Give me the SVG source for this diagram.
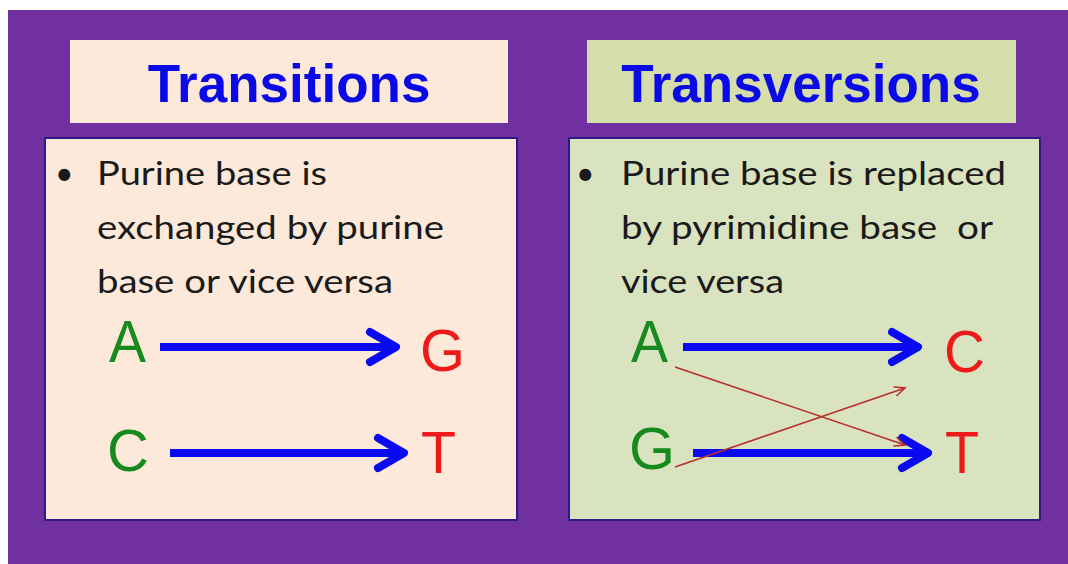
<svg xmlns="http://www.w3.org/2000/svg" width="1068" height="564" viewBox="0 0 1068 564">
  <style>
    .title { font-family: "Liberation Sans", Arial, sans-serif; font-weight: bold; font-size: 53px; fill: #0A0AE6; text-anchor: middle; }
    .body { font-family: Lato, "Open Sans", sans-serif; font-size: 32px; fill: #1A1A1A; }
    .base { font-family: "Liberation Sans", Arial, sans-serif; font-size: 60px; }
    .pur { fill: #178A1E; }
    .pyr { fill: #EE1A1A; }
    .box { stroke: #2E1C86; stroke-width: 2; }
    .blue { stroke: #0A0AF0; stroke-width: 8; fill: none; }
    .thin { stroke: #B8302C; stroke-width: 1.6; fill: none; }
  </style>
  <defs>
    <marker id="bigArrow" markerUnits="userSpaceOnUse" viewBox="-34 -24 42 48" markerWidth="42" markerHeight="48" refX="0" refY="0" orient="auto">
      <path d="M-26,-15 L0,0 L-26,15" fill="none" stroke="#0A0AF0" stroke-width="8" stroke-linecap="round" stroke-linejoin="round"/>
    </marker>
    <marker id="smallArrow" markerUnits="userSpaceOnUse" viewBox="-14 -8 16 16" markerWidth="16" markerHeight="16" refX="0" refY="0" orient="auto">
      <path d="M-10,-4.5 L0,0 L-10,4.5" fill="none" stroke="#B8302C" stroke-width="1.6" stroke-linecap="round"/>
    </marker>
  </defs>

  <rect x="0" y="0" width="1068" height="564" fill="#FFFFFF"/>
  <rect x="8" y="10" width="1060" height="554" fill="#7030A0"/>

  <g id="transitions-title">
    <rect x="70" y="40" width="438" height="83" fill="#FCE9D9"/>
    <text class="title" x="289" y="102">Transitions</text>
  </g>

  <g id="transversions-title">
    <rect x="587" y="40" width="429" height="83" fill="#D5DDAB"/>
    <text class="title" x="801" y="102">Transversions</text>
  </g>

  <g id="transitions-box">
    <rect class="box" x="45" y="138" width="472" height="382" fill="#FCE9D9"/>
    <text class="body" x="55" y="185">•</text>
    <text class="body" x="97" y="185" textLength="230" lengthAdjust="spacingAndGlyphs">Purine base is</text>
    <text class="body" x="97" y="239" textLength="347" lengthAdjust="spacingAndGlyphs">exchanged by purine</text>
    <text class="body" x="97" y="293" textLength="296" lengthAdjust="spacingAndGlyphs">base or vice versa</text>
  </g>

  <g id="transversions-box">
    <rect class="box" x="569" y="138" width="471" height="382" fill="#DAE3BF"/>
    <text class="body" x="576" y="185">•</text>
    <text class="body" x="621" y="185" textLength="385" lengthAdjust="spacingAndGlyphs">Purine base is replaced</text>
    <text class="body" x="621" y="239" textLength="372" lengthAdjust="spacingAndGlyphs" xml:space="preserve">by pyrimidine base  or</text>
    <text class="body" x="621" y="293" textLength="163" lengthAdjust="spacingAndGlyphs">vice versa</text>
  </g>

  <g id="node-A-left"><text class="base pur" x="109" y="362" textLength="37" lengthAdjust="spacingAndGlyphs">A</text></g>
  <g id="node-G-left"><text class="base pyr" x="420" y="371" textLength="45" lengthAdjust="spacingAndGlyphs">G</text></g>
  <g id="node-C-left"><text class="base pur" x="107" y="471" textLength="42" lengthAdjust="spacingAndGlyphs">C</text></g>
  <g id="node-T-left"><text class="base pyr" x="421" y="473" textLength="35" lengthAdjust="spacingAndGlyphs">T</text></g>

  <g id="node-A-right"><text class="base pur" x="631" y="362" textLength="37" lengthAdjust="spacingAndGlyphs">A</text></g>
  <g id="node-C-right"><text class="base pyr" x="944" y="372" textLength="41" lengthAdjust="spacingAndGlyphs">C</text></g>
  <g id="node-G-right"><text class="base pur" x="629" y="469" textLength="46" lengthAdjust="spacingAndGlyphs">G</text></g>
  <g id="node-T-right"><text class="base pyr" x="945" y="473" textLength="34" lengthAdjust="spacingAndGlyphs">T</text></g>

  <g id="connectors">
    <line class="blue" x1="160" y1="347" x2="396" y2="347" marker-end="url(#bigArrow)"/>
    <line class="blue" x1="170" y1="453" x2="404" y2="453" marker-end="url(#bigArrow)"/>
    <line class="blue" x1="683" y1="347" x2="918" y2="347" marker-end="url(#bigArrow)"/>
    <line class="blue" x1="693" y1="453" x2="928" y2="453" marker-end="url(#bigArrow)"/>
    <line class="thin" x1="675" y1="367" x2="905" y2="445" marker-end="url(#smallArrow)"/>
    <line class="thin" x1="675" y1="467" x2="905" y2="388" marker-end="url(#smallArrow)"/>
  </g>
</svg>
